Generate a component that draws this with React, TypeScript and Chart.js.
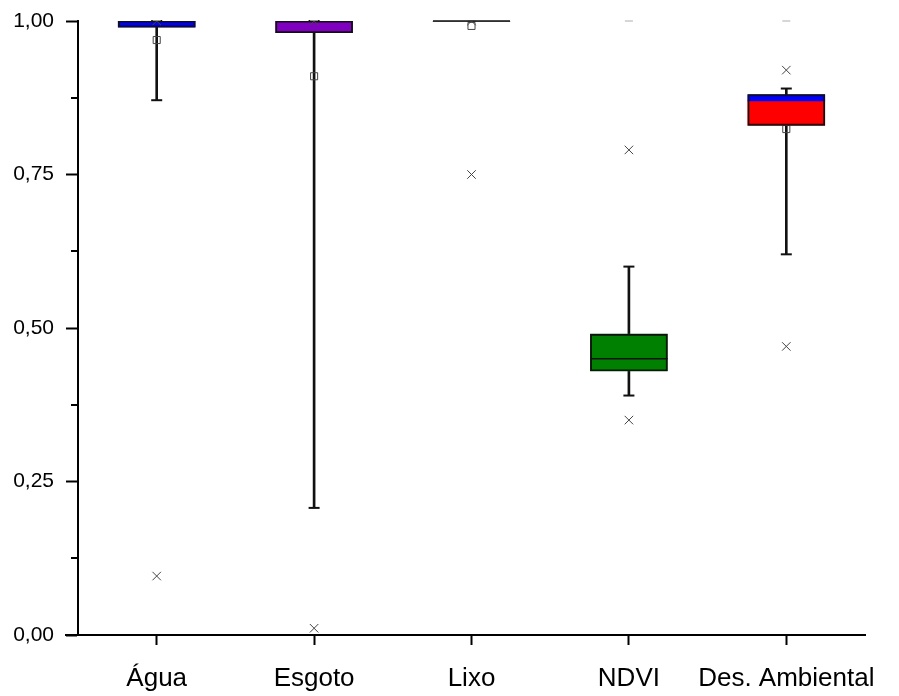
import React, { useEffect, useRef } from "react";
import { Chart, registerables } from "chart.js";

Chart.register(...registerables);

const CATEGORIES = ["Água", "Esgoto", "Lixo", "NDVI", "Des. Ambiental"];
const Q1 = [0.99, 0.981, 1.0, 0.43, 0.83];
const MEDIAN = [1.0, 1.0, 1.0, 0.45, 0.87];
const Q3 = [1.0, 1.0, 1.0, 0.49, 0.88];
const WHISKER_LOW = [0.871, 0.207, null, 0.39, 0.62];
const WHISKER_HIGH = [1.0, 1.0, null, 0.6, 0.89];
const MEAN = [0.969, 0.91, 0.992, 0.467, 0.824];
const P1 = [0.096, 0.011, 0.75, 0.35, 0.47];
const P99 = [1.0, 1.0, 1.0, 0.79, 0.92];
const MAX = [1.0, 1.0, 1.0, 1.0, 1.0];
const Y_TICKS = [0, 0.25, 0.5, 0.75, 1.0];
const Y_MINOR = [0.125, 0.375, 0.625, 0.875];

const LOWER_COLORS = ["#0000ff", "#8000c0", "#000000", "#008000", "#ff0000"];
const UPPER_COLORS = ["#0000ff", "#8000c0", "#000000", "#008000", "#0000ff"];
const MEDIAN_COLORS = ["rgba(0,0,0,0)", "rgba(0,0,0,0)", "#111", "#111", "rgba(0,0,0,0)"];

const FONT = "'Liberation Sans', Arial, sans-serif";
const BOX_W = 77;

const axisExtras = {
  id: "axisExtras",
  afterDraw(chart: any) {
    const { ctx, chartArea } = chart;
    const y = chart.scales.y;
    ctx.save();
    ctx.strokeStyle = "#000";
    ctx.lineWidth = 2;
    ctx.beginPath();
    Y_MINOR.forEach((v) => {
      const py = Math.round(y.getPixelForValue(v));
      ctx.moveTo(chartArea.left - 7, py);
      ctx.lineTo(chartArea.left, py);
    });
    ctx.moveTo(chartArea.left - 13, chartArea.bottom);
    ctx.lineTo(chartArea.left, chartArea.bottom);
    ctx.stroke();
    ctx.restore();
  },
};

export default function App() {
  const ref = useRef<HTMLCanvasElement | null>(null);

  useEffect(() => {
    if (!ref.current) return;
    Chart.defaults.font.family = FONT;
    const pointBase = { type: "line" as const, showLine: false };
    const chart = new Chart(ref.current, {
      type: "bar",
      data: {
        labels: CATEGORIES,
        datasets: [
          {
            ...pointBase,
            label: "1%",
            data: P1,
            pointStyle: "crossRot",
            pointRadius: 6,
            pointBorderWidth: 1,
            pointBorderColor: "#444",
            pointBackgroundColor: "rgba(0,0,0,0)",
            order: 0,
            clip: 0,
          } as any,
          {
            ...pointBase,
            label: "99%",
            data: P99,
            pointStyle: "crossRot",
            pointRadius: 6,
            pointBorderWidth: 1,
            pointBorderColor: "#444",
            pointBackgroundColor: "rgba(0,0,0,0)",
            order: 0,
            clip: 0,
          } as any,
          {
            ...pointBase,
            label: "median",
            data: MEDIAN,
            pointStyle: "line",
            pointRadius: BOX_W / 2,
            pointBorderWidth: 1.5,
            pointBorderColor: MEDIAN_COLORS,
            order: 1,
            clip: false,
          } as any,
          {
            label: "box",
            data: Q1.map((q, i) => [q, Q3[i]]),
            backgroundColor: "rgba(0,0,0,0)",
            borderColor: "#111",
            borderWidth: 1.2,
            borderSkipped: false,
            barThickness: BOX_W,
            grouped: false,
            order: 2,
          } as any,
          {
            label: "upper",
            data: MEDIAN.map((m, i) => [m, Q3[i]]),
            backgroundColor: UPPER_COLORS,
            borderWidth: 0,
            barThickness: BOX_W,
            grouped: false,
            order: 3,
          } as any,
          {
            label: "lower",
            data: Q1.map((q, i) => [q, MEDIAN[i]]),
            backgroundColor: LOWER_COLORS,
            borderWidth: 0,
            barThickness: BOX_W,
            grouped: false,
            order: 3,
          } as any,
          {
            ...pointBase,
            label: "max",
            data: MAX,
            pointStyle: "line",
            pointRadius: 4,
            pointBorderWidth: 1.5,
            pointBorderColor: "#c8c8c8",
            order: 4,
            clip: false,
          } as any,
          {
            ...pointBase,
            label: "mean",
            data: MEAN,
            pointStyle: "rect",
            pointRadius: 5,
            pointBorderWidth: 1,
            pointBorderColor: "#444",
            pointBackgroundColor: "rgba(0,0,0,0)",
            order: 4,
            clip: false,
          } as any,
          {
            ...pointBase,
            label: "capLow",
            data: WHISKER_LOW,
            pointStyle: "line",
            pointRadius: 5.5,
            pointBorderWidth: 2,
            pointBorderColor: "#111",
            order: 5,
            clip: false,
          } as any,
          {
            ...pointBase,
            label: "capHigh",
            data: WHISKER_HIGH,
            pointStyle: "line",
            pointRadius: 5.5,
            pointBorderWidth: 2,
            pointBorderColor: "#111",
            order: 5,
            clip: false,
          } as any,
          {
            label: "whisker",
            data: WHISKER_LOW.map((l, i) => (l == null ? null : [l, WHISKER_HIGH[i]])),
            backgroundColor: "#111",
            borderWidth: 0,
            barThickness: 2,
            grouped: false,
            order: 6,
          } as any,
        ],
      },
      options: {
        responsive: false,
        animation: false,
        layout: { autoPadding: false, padding: { top: 21, right: 34, left: 0, bottom: 0 } },
        plugins: {
          legend: { display: false },
          tooltip: { enabled: false },
        },
        scales: {
          x: {
            type: "category",
            offset: true,
            grid: {
              offset: false,
              drawOnChartArea: false,
              drawTicks: true,
              tickLength: 10,
              tickWidth: 2,
              tickColor: "#000",
            },
            border: { color: "#000", width: 2 },
            ticks: {
              color: "#000",
              font: { size: 26, family: FONT },
              padding: 18,
              maxRotation: 0,
              autoSkip: false,
            },
            afterFit: (s: any) => {
              s.height = 61;
              s.paddingLeft = 0;
              s.paddingRight = 0;
            },
          },
          y: {
            min: 0,
            max: 1,
            afterBuildTicks: (s: any) => {
              s.ticks = Y_TICKS.map((v) => ({ value: v }));
            },
            grid: {
              drawOnChartArea: false,
              drawTicks: true,
              tickLength: 12,
              tickWidth: 2,
              tickColor: "#000",
            },
            border: { color: "#000", width: 2 },
            ticks: {
              color: "#000",
              font: { size: 21, family: FONT },
              padding: 12,
              callback: (v: any) => Number(v).toFixed(2).replace(".", ","),
            },
            afterFit: (s: any) => {
              s.width = 78;
              s.paddingTop = 0;
              s.paddingBottom = 0;
            },
          },
        },
      },
      plugins: [axisExtras],
    });
    return () => chart.destroy();
  }, []);

  return (
    <div style={{ position: "fixed", left: 0, top: 0, width: 899, height: 696, background: "#fff" }}>
      <canvas ref={ref} width={899} height={696} />
    </div>
  );
}
